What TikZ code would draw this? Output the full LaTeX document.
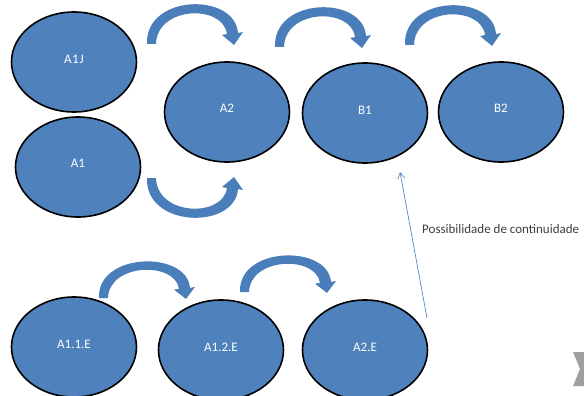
\documentclass[tikz,border=0pt]{standalone}
\usepackage{fontspec}
\setmainfont{Carlito}
\usetikzlibrary{shapes.geometric,arrows.meta}
\definecolor{stepblue}{HTML}{4F81BD}
\definecolor{arrowblue}{HTML}{4A7EBB}
\definecolor{thinblue}{HTML}{5A87C2}
\definecolor{notegray}{HTML}{3F3F3F}
\tikzset{
  stage/.style={ellipse, draw=black, line width=1.6pt, fill=stepblue,
    minimum width=125pt, minimum height=100pt, inner sep=0pt,
    text=white, font=\fontsize{13}{15}\selectfont},
  bentarrow/.style={fill=arrowblue, draw=none},
  note/.style={text=notegray, font=\fontsize{13}{15}\selectfont, anchor=west, inner sep=0pt}
}
% curved block arrow, tail at the origin, arching over to the right
\newcommand{\bentshape}{%
  (0,0) .. controls (-2,-50) and (88,-52) .. (91,-11)
  -- (96,-12) -- (87,1) -- (75,-9) -- (80,-10)
  .. controls (76,-40) and (10,-38) .. (9,0) -- cycle}
\begin{document}
\begin{tikzpicture}[x=1pt, y=-1pt]
  \useasboundingbox (0,0) rectangle (584,396);
  \fill[white] (0,0) rectangle (584,396);

  % stages
  \node[stage] (a1j) at (74,62)  {\raisebox{5pt}{A\kern0.5pt1\kern1pt J}};
  \node[stage] (a1)  at (78,167) {\raisebox{7pt}{A1}};
  \node[stage] (a2)  at (227,112) {\raisebox{7pt}{A2}};
  \node[stage] (b1)  at (365,113) {\raisebox{6pt}{B1}};
  \node[stage] (b2)  at (501,112) {\raisebox{7pt}{B2}};
  \node[stage] (a11e) at (74,347) {\raisebox{6pt}{A1.1.E}};
  \node[stage] (a12e) at (221,350) {\raisebox{5pt}{A1.2.E}};
  \node[stage] (a2e)  at (365,350) {\raisebox{5pt}{A2.E}};

  % curved block arrows along the upper row
  \fill[bentarrow, shift={(147,44)}] \bentshape;
  \fill[bentarrow, shift={(275,47)}] \bentshape;
  \fill[bentarrow, shift={(405,45)}] \bentshape;
  % curved block arrow from A1 up to A2
  \fill[bentarrow, shift={(147,178)}, yscale=-1] \bentshape;
  % curved block arrows along the lower row
  \fill[bentarrow, shift={(99,298)}, yscale=0.92] \bentshape;
  \fill[bentarrow, shift={(240,292)}, yscale=0.92] \bentshape;

  % continuation link
  \coordinate (contfoot) at (427,318);
  \coordinate (conthead) at (400,172);
  \draw[thinblue, line width=0.7pt, -{Straight Barb[length=6pt, width=7pt]}] (contfoot) -- (conthead);
  \node[note] (contnote) at (422,229) {Possibilidade de continuidade};

  % grey mark at the right edge
  \fill[gray!75] (573,352) -- (584,352) -- (584,386) -- (573,386) -- (580,369) -- cycle;
\end{tikzpicture}
\end{document}
